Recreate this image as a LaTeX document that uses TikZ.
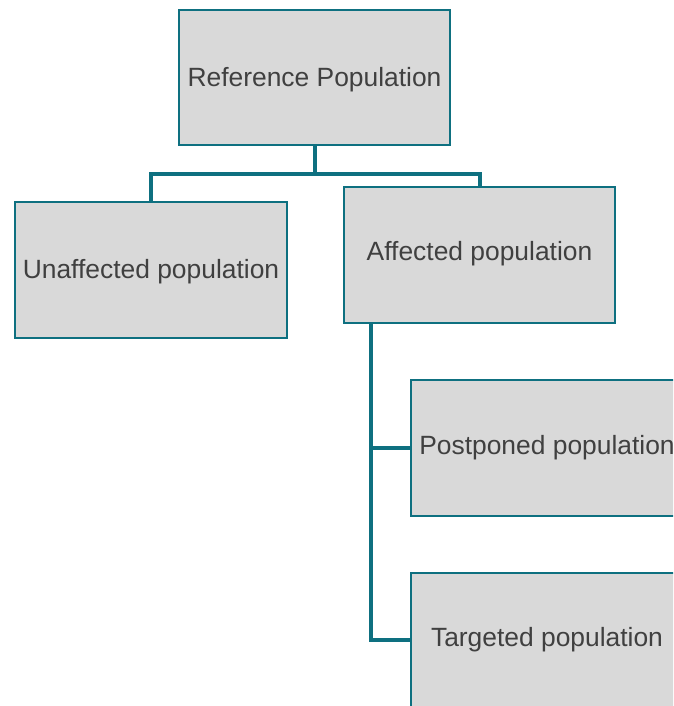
\documentclass[tikz,border=0pt]{standalone}
\usepackage{fontspec}
\setmainfont{Liberation Sans}
\definecolor{teal}{HTML}{0E7080}
\definecolor{boxfill}{HTML}{D9D9D9}
\definecolor{ink}{HTML}{404040}
\begin{document}
\begin{tikzpicture}[x=1pt,y=-1pt,
  box/.style={draw=teal, fill=boxfill, line width=2pt, rectangle,
    minimum width=272pt, minimum height=136pt, inner sep=0pt, outer sep=0pt},
  lbl/.style={anchor=base, text=ink, inner sep=0pt,
    font=\fontsize{26.4}{30}\selectfont},
  conn/.style={draw=teal, line width=4pt}]
\useasboundingbox (0,0) rectangle (673,706);
\clip (0,0) rectangle (673,706);

% boxes
\node[box, minimum width=271pt, minimum height=135pt] (ref) at (314.5,77.5) {};
\node[box] (unaff) at (151,270) {};
\node[box, minimum width=271pt] (aff) at (479.5,255.4) {};
\node[box] (post) at (547,448) {};
\node[box] (targ) at (547,641) {};

% labels
\node[lbl] (refT) at (314.5,86.7) {Reference Population};
\node[lbl] (unaffT) at (151,278.3) {Unaffected population};
\node[lbl] (affT) at (479.5,260.7) {Affected population};
\node[lbl] (postT) at (547,454.3) {Postponed population};
\node[lbl] (targT) at (547,646) {Targeted population};

% tree connectors
\coordinate (split) at ([yshift=-28.5pt]ref.south);
\draw[conn] (ref.south) -- (split);
\draw[conn] (split) -| (unaff.north);
\draw[conn] (split) -| (aff.north);
\coordinate (trunk) at ([xshift=27pt]aff.south west);
\draw[conn] (trunk) |- (post.west);
\draw[conn] (trunk) |- ([yshift=1.5pt]targ.west);
\end{tikzpicture}
\end{document}
